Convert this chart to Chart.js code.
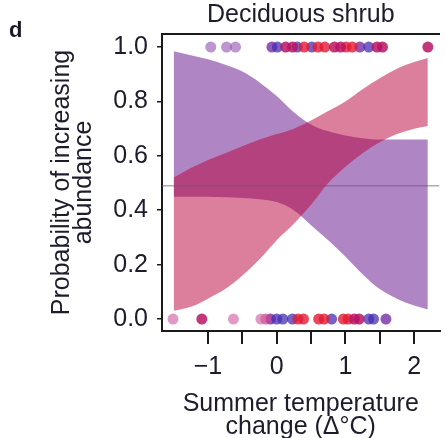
<!DOCTYPE html>
<html>
<head>
<meta charset="utf-8">
<script src="https://cdn.jsdelivr.net/npm/chart.js@4/dist/chart.umd.min.js"></script>
<style>
  html, body { margin: 0; padding: 0; background: #fff; }
  #wrap { position: relative; width: 445px; height: 438px; }
  #panel { position: absolute; left: 9px; top: 17px; font: bold 22px "Liberation Sans", Arial, sans-serif; color: #1a1a2a; }
</style>
</head>
<body>
<div id="wrap">
  <canvas id="c" width="445" height="438"></canvas>
  <div id="panel">d</div>
</div>
<script>
// ---- data ----
const bandX       = [-1.5, -1.25, -1.0, -0.75, -0.5, -0.25, 0, 0.25, 0.5, 0.75, 1.0, 1.25, 1.5, 1.75, 2.0, 2.2];
const pinkUpper   = [0.52, 0.555, 0.585, 0.61, 0.635, 0.66, 0.68, 0.70, 0.73, 0.765, 0.80, 0.845, 0.885, 0.92, 0.945, 0.96];
const pinkLower   = [0.03, 0.045, 0.075, 0.11, 0.16, 0.22, 0.29, 0.35, 0.42, 0.50, 0.56, 0.61, 0.65, 0.68, 0.70, 0.71];
const purpleUpper = [0.985, 0.97, 0.955, 0.935, 0.91, 0.87, 0.82, 0.76, 0.715, 0.69, 0.675, 0.665, 0.66, 0.66, 0.66, 0.66];
const purpleLower = [0.45, 0.45, 0.45, 0.448, 0.445, 0.44, 0.43, 0.40, 0.345, 0.29, 0.23, 0.165, 0.11, 0.075, 0.05, 0.035];

const topX     = [-0.96, -0.73, -0.60, -0.07, 0.01, 0.13, 0.23, 0.30, 0.40, 0.51, 0.60, 0.70, 0.84, 0.93, 1.01, 1.10, 1.21, 1.34, 1.46, 1.54, 2.20];
const topGroup = ['lightpurple','lightpurple','lightpurple','purple','blue','magenta','magenta','blue','red','blue','red','red','magenta','magenta','red','red','purple','blue','magenta','magenta','magenta'];
const botX     = [-1.51, -1.09, -0.63, -0.23, -0.16, -0.09, 0.0, 0.09, 0.23, 0.31, 0.39, 0.61, 0.69, 0.80, 0.97, 1.04, 1.13, 1.20, 1.34, 1.41, 1.59];
const botGroup = ['lightpink','magenta','lightpink','lightpink','pink','purple','blue','blue','blue','red','red','red','red','blue','red','red','magenta','magenta','blue','blue','purple'];

const referenceLevel = 0.49;
const xTickValues = [-1, -0.5, 0, 0.5, 1, 1.5, 2];
const xTickLabels = ['\u22121', '', '0', '', '1', '', '2'];
const yTickValues = [0, 0.2, 0.4, 0.6, 0.8, 1.0];
const yTickLabels = ['0.0', '0.2', '0.4', '0.6', '0.8', '1.0'];

// ---- styles ----
const FONT = '"Liberation Sans", Arial, sans-serif';
const TEXT = '#1c1c2c';
const groupColors = {
  lightpurple: 'rgba(150,85,178,0.62)',
  lightpink:   'rgba(210,100,165,0.65)',
  pink:        'rgba(205,70,140,0.7)',
  magenta:     'rgba(185,20,100,0.85)',
  red:         'rgba(228,25,50,0.8)',
  blue:        'rgba(70,45,178,0.75)',
  purple:      'rgba(118,45,162,0.8)'
};
const X_MIN = -1.67, X_MAX = 2.37, Y_MIN = -0.044, Y_MAX = 1.048;

const pts = (xs, ys) => xs.map((x, i) => ({ x, y: ys[i] }));
const bandStyle = { pointRadius: 0, borderWidth: 0, borderColor: 'rgba(0,0,0,0)', cubicInterpolationMode: 'monotone' };

const datasets = [];
// dots (on top)
Object.keys(groupColors).forEach(g => {
  const d = [];
  topX.forEach((x, i) => { if (topGroup[i] === g) d.push({ x, y: 1 }); });
  botX.forEach((x, i) => { if (botGroup[i] === g) d.push({ x, y: 0 }); });
  if (d.length) datasets.push({ data: d, showLine: false, pointRadius: 5.5, pointBorderWidth: 0,
    pointBackgroundColor: groupColors[g], backgroundColor: groupColors[g], order: 0 });
});
// reference line
datasets.push({ data: [{ x: X_MIN, y: referenceLevel }, { x: X_MAX, y: referenceLevel }],
  borderColor: 'rgba(105,80,120,0.5)', borderWidth: 1.5, pointRadius: 0, fill: false, order: 1 });
// pink band
const pinkUpIdx = datasets.length;
datasets.push(Object.assign({ data: pts(bandX, pinkUpper), fill: { target: pinkUpIdx + 1 },
  backgroundColor: 'rgba(185,0,60,0.5)', order: 2 }, bandStyle));
datasets.push(Object.assign({ data: pts(bandX, pinkLower), fill: false, order: 2 }, bandStyle));
// purple band
const purUpIdx = datasets.length;
datasets.push(Object.assign({ data: pts(bandX, purpleUpper), fill: { target: purUpIdx + 1 },
  backgroundColor: 'rgba(110,35,145,0.55)', order: 3 }, bandStyle));
datasets.push(Object.assign({ data: pts(bandX, purpleLower), fill: false, order: 3 }, bandStyle));

new Chart(document.getElementById('c'), {
  type: 'line',
  data: { datasets },
  options: {
    responsive: false,
    animation: false,
    events: [],
    layout: { padding: 0 },
    plugins: {
      legend: { display: false },
      tooltip: { enabled: false },
      title: {
        display: true, text: 'Deciduous shrub', fullSize: false, color: TEXT,
        font: { family: FONT, size: 25, weight: 'normal', lineHeight: 1 },
        padding: { top: 3, bottom: 6 }
      }
    },
    scales: {
      x: {
        type: 'linear', position: 'bottom', min: X_MIN, max: X_MAX,
        afterBuildTicks: s => { s.ticks = xTickValues.map(v => ({ value: v })); },
        afterFit: s => { s.height = 107; },
        ticks: { color: TEXT, padding: 8, maxRotation: 0, autoSkip: false,
          font: { family: FONT, size: 25, lineHeight: 1.2 },
          callback: v => { const i = xTickValues.indexOf(v); return i >= 0 ? xTickLabels[i] : ''; } },
        grid: { drawOnChartArea: false, tickLength: 13, color: '#1a1a1a', lineWidth: 2 },
        border: { display: true, color: '#1a1a1a', width: 2 },
        title: { display: true, text: ['Summer temperature', 'change (\u0394\u00B0C)'], color: TEXT,
          font: { family: FONT, size: 25, lineHeight: 0.9 }, padding: { top: 0, bottom: 0 } }
      },
      x2: {
        type: 'linear', position: 'top', min: X_MIN, max: X_MAX,
        afterFit: s => { s.height = 0; },
        ticks: { display: false },
        grid: { display: false },
        border: { display: true, color: '#1a1a1a', width: 2 }
      },
      y: {
        type: 'linear', position: 'left', min: Y_MIN, max: Y_MAX,
        afterBuildTicks: s => { s.ticks = yTickValues.map(v => ({ value: v })); },
        afterFit: s => { s.width = 162; },
        ticks: { color: TEXT, padding: 9, autoSkip: false,
          font: { family: FONT, size: 25, lineHeight: 1.2 },
          callback: v => { const i = yTickValues.findIndex(t => Math.abs(t - v) < 1e-9); return i >= 0 ? yTickLabels[i] : ''; } },
        grid: { drawOnChartArea: false, tickLength: 5, color: '#1a1a1a', lineWidth: 1.5 },
        border: { display: true, color: '#1a1a1a', width: 2 },
        title: { display: true, text: ['Probability of increasing', 'abundance'], color: TEXT,
          font: { family: FONT, size: 25, lineHeight: 0.9 }, padding: { top: 50.75, bottom: 0 } }
      }
    }
  }
});
</script>
</body>
</html>
